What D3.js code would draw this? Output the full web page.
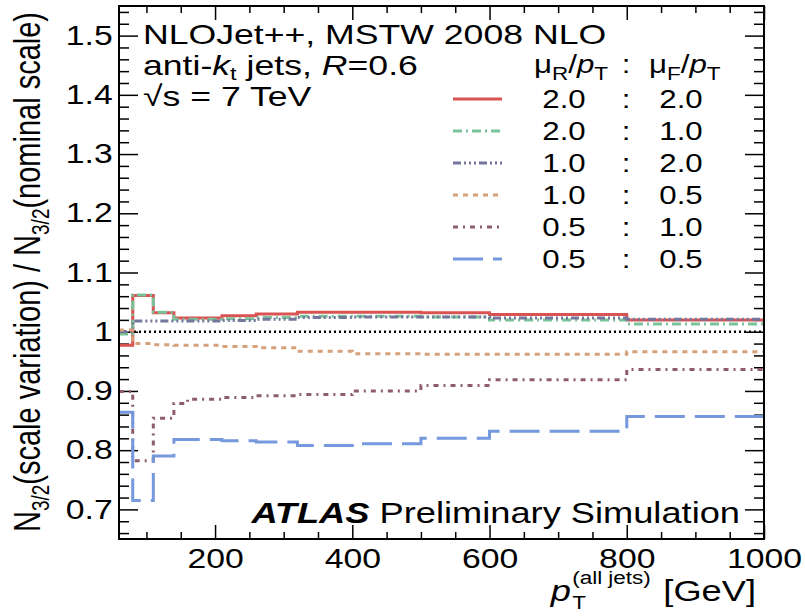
<!DOCTYPE html>
<html>
<head>
<meta charset="utf-8">
<script src="https://cdn.jsdelivr.net/npm/d3@7"></script>
<style>
  body { margin: 0; background: #fff; }
  text { font-family: "Liberation Sans", Arial, Helvetica, sans-serif; fill: #000; }
</style>
</head>
<body>
<svg width="805" height="616"></svg>
<script>
// bin edges in pT [GeV]
const binEdges = [60, 80, 110, 140, 160, 210, 260, 320, 400, 500, 600, 800, 1000];

// ratio to nominal scale, one value per bin
const mu20_20 = [0.977, 1.061, 1.032, 1.023, 1.023, 1.027, 1.030, 1.033, 1.033, 1.032, 1.029, 1.020];
const mu20_10 = [0.996, 1.062, 1.033, 1.021, 1.021, 1.022, 1.024, 1.026, 1.026, 1.025, 1.020, 1.013];
const mu10_20 = [1.000, 1.018, 1.018, 1.018, 1.018, 1.019, 1.021, 1.024, 1.025, 1.025, 1.023, 1.021];
const mu10_05 = [1.003, 0.980, 0.978, 0.977, 0.977, 0.975, 0.973, 0.967, 0.963, 0.962, 0.962, 0.966];
const mu05_10 = [0.899, 0.782, 0.854, 0.879, 0.886, 0.889, 0.892, 0.894, 0.900, 0.909, 0.919, 0.936];
const mu05_05 = [0.864, 0.715, 0.790, 0.818, 0.818, 0.816, 0.814, 0.808, 0.811, 0.820, 0.832, 0.857];

const muR = ["2.0", "2.0", "1.0", "1.0", "0.5", "0.5"];
const muF = ["2.0", "1.0", "2.0", "0.5", "1.0", "0.5"];

const xMajorTicks = [200, 400, 600, 800, 1000];
const yMajorTicks = [0.7, 0.8, 0.9, 1.0, 1.1, 1.2, 1.3, 1.4, 1.5];

// styles
const colors = ["#d95353", "#79c39b", "#74769c", "#d6a07a", "#8f5c6b", "#7698dc"];
const dashes = ["none", "9,4,2,4", "8,3,2,3,2,3,2,3", "5,5", "5,5,2,5", "30,10"];

const SX = 1.25; // the text in the picture is stretched sideways

const svg = d3.select("svg");
const x = d3.scaleLinear().domain([60, 1000]).range([119, 764]);
const y = d3.scaleLinear().domain([0.65, 1.55]).range([539, 6]);

svg.append("rect").attr("width", 805).attr("height", 616).attr("fill", "#fff");

svg.append("clipPath").attr("id", "plot")
  .append("rect")
  .attr("x", x(60)).attr("y", y(1.55))
  .attr("width", x(1000) - x(60)).attr("height", y(0.65) - y(1.55));

function stretched(parent, px, py) {
  return parent.append("g").attr("transform", `translate(${px},${py}) scale(${SX},1)`);
}

// ---- axes ----
const xMinor = d3.range(100, 1000, 50).filter(v => v % 200 !== 0);
const yMinor = d3.range(66, 155, 2).map(v => v / 100).filter(v => Math.round(v * 100) % 10 !== 0);

function addAxis(axis, tx, ty) {
  const g = svg.append("g").attr("transform", `translate(${tx},${ty})`).call(axis);
  g.select(".domain").remove();
  g.selectAll("line").attr("stroke", "#000").attr("stroke-width", 1.5);
  return g;
}

const bottom = addAxis(d3.axisBottom(x).tickValues(xMajorTicks).tickSize(-14).tickPadding(10).tickFormat(d3.format("d")), 0, y(0.65));
bottom.selectAll("text").attr("font-size", 27).attr("font-family", null)
  .attr("transform", `scale(${SX},1)`);
addAxis(d3.axisBottom(x).tickValues(xMinor).tickSize(-7).tickFormat(""), 0, y(0.65));
addAxis(d3.axisTop(x).tickValues(xMajorTicks).tickSize(-14).tickFormat(""), 0, y(1.55));
addAxis(d3.axisTop(x).tickValues(xMinor).tickSize(-7).tickFormat(""), 0, y(1.55));

const left = addAxis(d3.axisLeft(y).tickValues(yMajorTicks).tickSize(-19).tickPadding(5)
  .tickFormat(d => d === 1 ? "1" : d3.format(".1f")(d)), x(60), 0);
left.selectAll("text").attr("font-size", 27).attr("font-family", null)
  .attr("transform", `scale(${SX},1)`);
addAxis(d3.axisLeft(y).tickValues(yMinor).tickSize(-10).tickFormat(""), x(60), 0);
addAxis(d3.axisRight(y).tickValues(yMajorTicks).tickSize(-19).tickFormat(""), x(1000), 0);
addAxis(d3.axisRight(y).tickValues(yMinor).tickSize(-10).tickFormat(""), x(1000), 0);

// ---- curves ----
const plot = svg.append("g").attr("clip-path", "url(#plot)");

plot.append("line")
  .attr("x1", x(60)).attr("x2", x(1000))
  .attr("y1", y(1)).attr("y2", y(1))
  .attr("stroke", "#000").attr("stroke-width", 2.5)
  .attr("stroke-dasharray", "2,3");

const allSeries = [mu20_20, mu20_10, mu10_20, mu10_05, mu05_10, mu05_05];
const stepLine = d3.line()
  .x(d => x(d[0])).y(d => y(d[1]))
  .curve(d3.curveStepAfter);

allSeries.forEach((vals, i) => {
  const pts = binEdges.map((e, j) => [e, vals[Math.min(j, vals.length - 1)]]);
  plot.append("path")
    .attr("d", stepLine(pts))
    .attr("fill", "none")
    .attr("stroke", colors[i])
    .attr("stroke-width", 3)
    .attr("stroke-dasharray", dashes[i]);
});

// frame
svg.append("rect")
  .attr("x", x(60)).attr("y", y(1.55))
  .attr("width", x(1000) - x(60)).attr("height", y(0.65) - y(1.55))
  .attr("fill", "none").attr("stroke", "#000").attr("stroke-width", 2);

// ---- text block top-left ----
const t1 = stretched(svg, 143, 44).append("text").attr("font-size", 28.5);
t1.text("NLOJet++, MSTW 2008 NLO");

const t2 = stretched(svg, 143, 75).append("text").attr("font-size", 28.5);
t2.append("tspan").text("anti-");
t2.append("tspan").attr("font-style", "italic").text("k");
t2.append("tspan").attr("font-size", 19).attr("dy", 5).text("t");
t2.append("tspan").attr("dy", -5).text(" jets, ");
t2.append("tspan").attr("font-style", "italic").text("R");
t2.append("tspan").text("=0.6");

stretched(svg, 143, 106).append("text").attr("font-size", 28.5).text("\u221As = 7 TeV");

// ---- legend ----
const legX1 = 453, legX2 = 502, col1 = 564, colC = 626, col2 = 681;
const legTop = 99, rowH = 32;

function muLabel(px, py, sub) {
  const t = stretched(svg, px, py).append("text").attr("font-size", 25);
  t.append("tspan").text("\u03BC");
  t.append("tspan").attr("font-size", 18).attr("dy", 7).text(sub);
  t.append("tspan").attr("dy", -7).text("/");
  t.append("tspan").attr("font-style", "italic").text("p");
  t.append("tspan").attr("font-size", 18).attr("dy", 7).text("T");
}
muLabel(534, 73, "R");
stretched(svg, colC, 73).append("text").attr("font-size", 25).attr("text-anchor", "middle").text(":");
muLabel(649, 73, "F");

muR.forEach((r, i) => {
  const cy = legTop + i * rowH;
  svg.append("line")
    .attr("x1", legX1).attr("x2", legX2).attr("y1", cy).attr("y2", cy)
    .attr("stroke", colors[i]).attr("stroke-width", 3)
    .attr("stroke-dasharray", dashes[i]);
  stretched(svg, col1, cy + 9).append("text").attr("font-size", 25).attr("text-anchor", "middle").text(r);
  stretched(svg, colC, cy + 9).append("text").attr("font-size", 25).attr("text-anchor", "middle").text(":");
  stretched(svg, col2, cy + 9).append("text").attr("font-size", 25).attr("text-anchor", "middle").text(muF[i]);
});

// ---- ATLAS label ----
const atl = stretched(svg, 740, 523).append("text").attr("font-size", 29).attr("text-anchor", "end");
atl.append("tspan").attr("font-weight", "bold").attr("font-style", "italic").text("ATLAS");
atl.append("tspan").text(" Preliminary Simulation");

// ---- axis titles ----
const yt = svg.append("g").attr("transform", `translate(40,12) scale(${SX},1) rotate(-90)`)
  .append("text").attr("font-size", 29).attr("text-anchor", "end");
yt.append("tspan").text("N");
yt.append("tspan").attr("font-size", 19).attr("dy", 7).text("3/2");
yt.append("tspan").attr("dy", -7).text("(scale variation) / N");
yt.append("tspan").attr("font-size", 19).attr("dy", 7).text("3/2");
yt.append("tspan").attr("dy", -7).text("(nominal scale)");

// x title: p with stacked sub/superscript
const xt = stretched(svg, 0, 601);
const pT = xt.append("text").attr("font-size", 29).attr("font-style", "italic").text("p");
const supT = xt.append("text").attr("font-size", 18).attr("y", -17).text("(all jets)");
const subT = xt.append("text").attr("font-size", 18).attr("y", 8).text("T");
const gev = xt.append("text").attr("font-size", 29).text("[GeV]");
const pw = pT.node().getComputedTextLength();
const sw = supT.node().getComputedTextLength();
const gw = gev.node().getComputedTextLength();
const right = 756 / SX;
const gap = 10;
const startX = right - gw - gap - sw - pw - 1;
pT.attr("x", startX);
supT.attr("x", startX + pw + 1);
subT.attr("x", startX + pw + 1);
gev.attr("x", right - gw);
</script>
</body>
</html>
